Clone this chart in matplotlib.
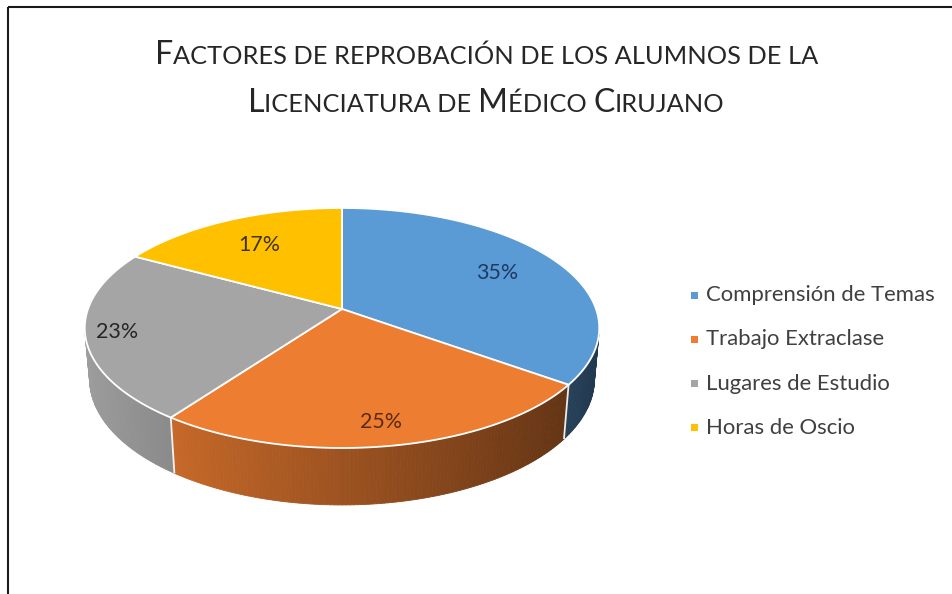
import numpy as np
import matplotlib
matplotlib.use('Agg')
import matplotlib.pyplot as plt
from matplotlib.patches import Polygon, Rectangle
from matplotlib.colors import to_rgb

# ---------------- data ----------------
categories = ['Comprensión de Temas', 'Trabajo Extraclase', 'Lugares de Estudio', 'Horas de Oscio']
values = [35, 25, 23, 17]
pct_labels = ['35%', '25%', '23%', '17%']
colors = ['#5B9BD5', '#ED7D31', '#A5A5A5', '#FFC000']
label_colors = ['#1F3A60', '#5C2A0E', '#262626', '#3F3212']
title_line1 = [('F', 'big'), ('ACTORES DE REPROBACIÓN DE LOS ALUMNOS DE LA', 'small')]
title_line2 = [('L', 'big'), ('ICENCIATURA DE ', 'small'), ('M', 'big'), ('ÉDICO ', 'small'),
               ('C', 'big'), ('IRUJANO', 'small')]

# ---------------- layout ----------------
W, Hpx = 953, 594
fig = plt.figure(figsize=(W / 100, Hpx / 100), dpi=100)
ax = fig.add_axes([0, 0, 1, 1])
ax.set_xlim(0, W)
ax.set_ylim(Hpx, 0)
ax.axis('off')

FONT = 'Lato'
TXT = '#404040'

# perspective camera for the 3D pie
CX, CY = 342.0, 309.0
S_E = 0.4606
C_E = np.sqrt(1 - S_E ** 2)
DIST = 5.609
FOC = 1424.7
DEPTH = 0.229
label_radius = [0.72, 0.85, 0.88, 0.70]


def proj(X, Y, Z):
    yc = Y * S_E + Z * C_E
    zc = DIST + Y * C_E - Z * S_E
    return CX + FOC * X / zc, CY - FOC * yc / zc


def rim(theta_deg, r=1.0, z=0.0):
    t = np.radians(theta_deg)
    return proj(r * np.sin(t), r * np.cos(t), z)


def shade(col, theta):
    f = 0.66 - 0.30 * np.sin(np.radians(theta))
    f = min(max(f, 0.0), 1.0)
    return tuple(c * f for c in to_rgb(col))


total = float(sum(values))
bounds = np.concatenate([[0], np.cumsum(values)]) / total * 360.0

# visible range of the outer wall
th_lim = np.degrees(np.arccos(-1.0 / (DIST * C_E)))
vis_lo, vis_hi = th_lim, 360 - th_lim

# walls
for i in range(len(values)):
    a0, a1 = max(bounds[i], vis_lo), min(bounds[i + 1], vis_hi)
    if a1 <= a0:
        continue
    ths = np.linspace(a0, a1, max(int((a1 - a0) / 0.75), 2) + 1)
    for t0, t1 in zip(ths[:-1], ths[1:]):
        col = shade(colors[i], 0.5 * (t0 + t1))
        pts = [rim(t0), rim(t1), rim(t1, z=-DEPTH), rim(t0, z=-DEPTH)]
        ax.add_patch(Polygon(pts, closed=True, facecolor=col, edgecolor=col, lw=0.6))

# white separators on wall
for b in bounds:
    if vis_lo < b < vis_hi:
        p0, p1 = rim(b), rim(b, z=-DEPTH)
        ax.plot([p0[0], p1[0]], [p0[1], p1[1]], color='white', lw=1.3, alpha=0.9,
                solid_capstyle='butt')

# top faces
for i in range(len(values)):
    ths = np.linspace(bounds[i], bounds[i + 1], 200)
    pts = [proj(0, 0, 0)] + [rim(t) for t in ths]
    ax.add_patch(Polygon(pts, closed=True, facecolor=colors[i], edgecolor='white',
                         lw=1.3, joinstyle='round'))


# helpers for text fitting
fig.canvas.draw()
renderer = fig.canvas.get_renderer()


def text_width(s, size, family=FONT, weight='normal'):
    t = ax.text(0, 0, s, fontsize=size, family=family, weight=weight)
    w = t.get_window_extent(renderer).width
    t.remove()
    return w


def fit_size(s, target, family=FONT, weight='normal'):
    w = text_width(s, 10, family, weight)
    return 10 * target / w


# percent labels
lab_size = fit_size('35%', 42)
for i in range(len(values)):
    mid = 0.5 * (bounds[i] + bounds[i + 1])
    x, y = rim(mid, r=label_radius[i])
    ax.text(x, y, pct_labels[i], fontsize=lab_size, family=FONT, color=label_colors[i],
            ha='center', va='center')

# title (small caps)
BIG_RATIO = 19.0 / 15.0


def line_width(pieces, small):
    return sum(text_width(s, small * (BIG_RATIO if k == 'big' else 1.0)) for s, k in pieces)


small_size = 14.0 * 661.0 / line_width(title_line1, 14.0)


def draw_line(pieces, xc, yb):
    widths = [text_width(s, small_size * (BIG_RATIO if k == 'big' else 1.0)) for s, k in pieces]
    x = xc - sum(widths) / 2
    for (s, k), w in zip(pieces, widths):
        ax.text(x, yb, s, fontsize=small_size * (BIG_RATIO if k == 'big' else 1.0),
                family=FONT, color='#262626', ha='left', va='baseline')
        x += w


draw_line(title_line1, 487, 64)
draw_line(title_line2, 486, 112)

# legend
leg_size = fit_size(categories[0], 230)
leg_x, leg_y0, leg_dy = 695, 295, 44.3
for i, cat in enumerate(categories):
    y = leg_y0 + i * leg_dy
    ax.add_patch(Rectangle((leg_x - 3.5, y - 3.5), 7, 7, facecolor=colors[i], edgecolor='none'))
    ax.text(leg_x + 11, y, cat, fontsize=leg_size, family=FONT, color=TXT,
            ha='left', va='center')

# chart border (top and left visible)
ax.plot([8, W], [7, 7], color='#1a1a1a', lw=1.5, solid_capstyle='butt')
ax.plot([8, 8], [7, Hpx], color='#1a1a1a', lw=1.5, solid_capstyle='butt')

fig.savefig('out.png', dpi=100)
